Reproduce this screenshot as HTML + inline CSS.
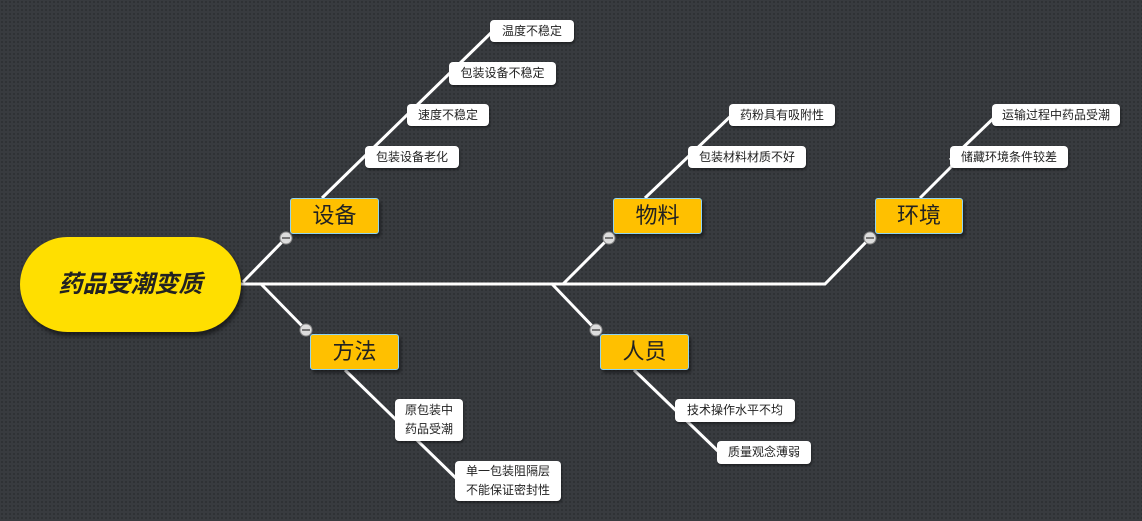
<!DOCTYPE html>
<html><head><meta charset="utf-8"><style>
html,body{margin:0;padding:0;}
body{width:1142px;height:521px;overflow:hidden;background-color:#383b3f;background-image:radial-gradient(#2c2f32 0.8px,transparent 1px);background-size:4px 4px;font-family:"Liberation Sans","Noto Sans CJK SC",sans-serif;}
svg{position:absolute;left:0;top:0;}
.b{position:absolute;background:#ffc000;border:1px solid #8fd3f0;border-radius:3px;box-shadow:2px 3px 3px rgba(0,0,0,.45);font-size:22px;color:#222;text-align:center;box-sizing:border-box;}
.l{position:absolute;background:#fff;border-radius:4px;font-size:12px;color:#222;text-align:center;box-sizing:border-box;box-shadow:1px 2px 2px rgba(0,0,0,.4);}
.c{position:absolute;left:20px;top:237px;width:221px;height:95px;border-radius:48px;background:#ffdf00;box-shadow:2px 4px 4px rgba(0,0,0,.5);font-size:24px;font-weight:bold;font-style:italic;color:#222;line-height:95px;text-align:center;}
</style></head><body>
<svg width="1142" height="521">
<g stroke="#fff" stroke-width="3" fill="none">
<polyline points="241,284 825,284 870,238"/>
<line x1="243" y1="282" x2="286" y2="238"/>
<line x1="322" y1="198" x2="496" y2="28"/>
<line x1="563" y1="284" x2="609" y2="238"/>
<line x1="645" y1="198" x2="735" y2="112"/>
<line x1="950" y1="160" x2="1000" y2="112"/>
<line x1="920" y1="198" x2="955" y2="163"/>
<line x1="261" y1="284" x2="306" y2="330"/>
<line x1="345" y1="370" x2="462" y2="484"/>
<line x1="552" y1="284" x2="596" y2="330"/>
<line x1="634" y1="370" x2="722" y2="455"/>
</g>
<g fill="#ddd" stroke="#888" stroke-width="1">
<circle cx="286" cy="238" r="6"/><circle cx="609" cy="238" r="6"/><circle cx="870" cy="238" r="6"/><circle cx="306" cy="330" r="6"/><circle cx="596" cy="330" r="6"/>
</g>
<g stroke="#555" stroke-width="1.5">
<line x1="282" y1="238" x2="290" y2="238"/><line x1="605" y1="238" x2="613" y2="238"/><line x1="866" y1="238" x2="874" y2="238"/><line x1="302" y1="330" x2="310" y2="330"/><line x1="592" y1="330" x2="600" y2="330"/>
</g>
</svg>
<div class="c">药品受潮变质</div>
<div class="b" style="left:290px;top:198px;width:89px;height:36px;line-height:34px">设备</div>
<div class="b" style="left:613px;top:198px;width:89px;height:36px;line-height:34px">物料</div>
<div class="b" style="left:875px;top:198px;width:88px;height:36px;line-height:34px">环境</div>
<div class="b" style="left:310px;top:334px;width:89px;height:36px;line-height:34px">方法</div>
<div class="b" style="left:600px;top:334px;width:89px;height:36px;line-height:34px">人员</div>
<div class="l" style="left:490px;top:20px;width:84px;height:22px;line-height:22px">温度不稳定</div>
<div class="l" style="left:449px;top:62px;width:107px;height:23px;line-height:23px">包装设备不稳定</div>
<div class="l" style="left:407px;top:104px;width:82px;height:22px;line-height:22px">速度不稳定</div>
<div class="l" style="left:365px;top:146px;width:94px;height:22px;line-height:22px">包装设备老化</div>
<div class="l" style="left:729px;top:104px;width:106px;height:22px;line-height:22px">药粉具有吸附性</div>
<div class="l" style="left:688px;top:146px;width:118px;height:22px;line-height:22px">包装材料材质不好</div>
<div class="l" style="left:992px;top:104px;width:128px;height:22px;line-height:22px">运输过程中药品受潮</div>
<div class="l" style="left:950px;top:146px;width:118px;height:22px;line-height:22px">储藏环境条件较差</div>
<div class="l" style="left:395px;top:399px;width:68px;height:42px;line-height:19px;padding-top:2px">原包装中<br>药品受潮</div>
<div class="l" style="left:455px;top:461px;width:106px;height:40px;line-height:19px;padding-top:1px">单一包装阻隔层<br>不能保证密封性</div>
<div class="l" style="left:675px;top:399px;width:120px;height:23px;line-height:23px">技术操作水平不均</div>
<div class="l" style="left:717px;top:441px;width:94px;height:23px;line-height:23px">质量观念薄弱</div>
</body></html>
